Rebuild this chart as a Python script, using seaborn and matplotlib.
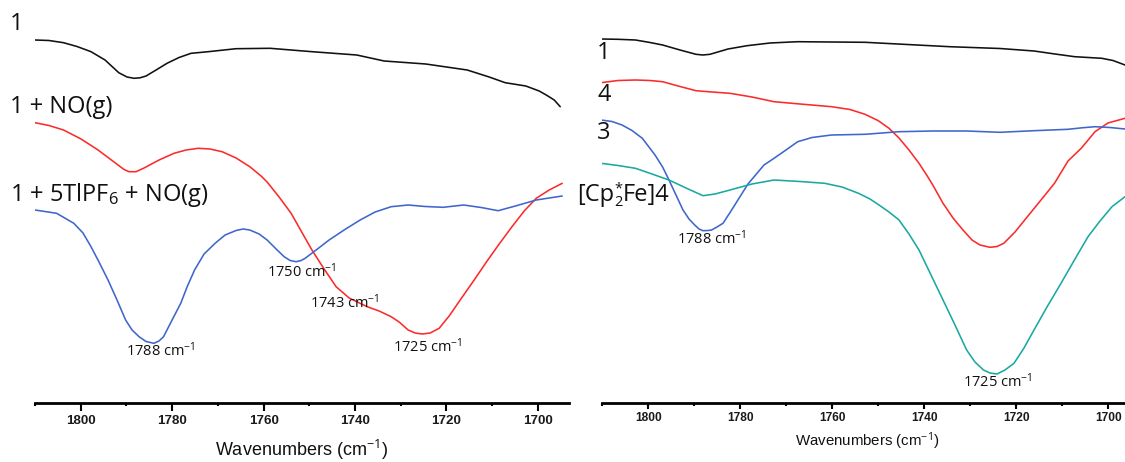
import matplotlib
matplotlib.use("Agg")
import matplotlib.pyplot as plt
from matplotlib.ticker import MultipleLocator
import seaborn as sns

# ---------------- data (wavenumber cm-1, offset transmittance a.u.) ----------------
left_black_wn = [1810.0, 1806.94, 1803.76, 1800.81, 1797.75, 1794.68, 1791.68, 1789.87, 1788.34, 1787.02,
                 1785.71, 1783.52, 1781.12, 1778.49, 1775.86, 1772.14, 1766.02, 1758.58, 1749.39, 1739.63,
                 1733.63, 1724.53, 1715.47, 1710.66, 1707.15, 1702.65, 1699.72, 1698.18, 1696.43, 1695.12]
left_black_y = [363, 362.5, 360.3, 356.5, 351.3, 343, 330.3, 326, 324.7, 325.2,
                327, 333, 339.7, 345.5, 349.7, 351.3, 354.3, 354.7, 351.3, 348,
                342, 339, 333, 326, 320.3, 317, 312, 308, 303, 296.3]

left_red_wn = [1810.0, 1806.94, 1803.76, 1799.93, 1796.21, 1792.71, 1790.53, 1789.43, 1787.90, 1786.15,
               1782.87, 1779.58, 1776.96, 1774.33, 1771.71, 1769.08, 1766.02, 1763.02, 1760.55, 1759.23,
               1756.61, 1753.98, 1751.79, 1749.43, 1746.76, 1744.14, 1741.29, 1737.35, 1734.73, 1732.10,
               1730.35, 1728.38, 1726.85, 1725.32, 1723.57, 1721.60, 1719.41, 1717.00, 1713.94, 1710.96,
               1708.47, 1705.67, 1703.00, 1700.37, 1697.53, 1694.68]
left_red_y = [280.3, 277.5, 273, 264, 253, 241, 233.5, 231.3, 231.3, 235,
              243, 249.7, 253, 254.7, 254, 251.3, 245, 236.3, 227, 221,
              206, 189.7, 172, 153, 134, 116.3, 105, 96.3, 92, 86.3,
              81, 73, 70, 69, 70, 74.7, 87, 103, 123, 143,
              159, 176.3, 192, 204.7, 213, 219.7]

left_blue_wn = [1810.0, 1805.27, 1801.51, 1799.50, 1797.75, 1796.00, 1794.03, 1792.06, 1790.18, 1788.77,
                1787.24, 1785.71, 1784.00, 1782.87, 1781.88, 1780.24, 1778.12, 1776.74, 1775.10, 1773.02,
                1770.61, 1768.42, 1766.02, 1764.49, 1763.02, 1760.98, 1759.23, 1757.26, 1755.51, 1754.20,
                1752.89, 1751.79, 1750.92, 1748.51, 1745.67, 1742.39, 1738.88, 1735.60, 1732.10, 1728.38,
                1724.66, 1720.72, 1716.24, 1712.41, 1708.69, 1704.53, 1700.37, 1697.53, 1694.68]
left_blue_y = [193, 189.7, 179.7, 170, 156.3, 141, 123, 103, 83, 73,
               66.3, 61.5, 59.7, 62, 66.3, 81, 99.7, 116, 133, 149,
               159.7, 168, 172.5, 174, 173, 169, 163, 154, 146.3, 142.5,
               141.3, 142.5, 144.7, 153, 163, 173, 183, 191, 196.3, 198,
               196.5, 195.7, 198, 195.5, 192.3, 197.5, 203, 205, 207]

right_black_wn = [1810.28, 1806.59, 1802.78, 1799.63, 1796.89, 1793.11, 1789.63, 1788.11, 1786.59, 1782.67,
                  1778.54, 1773.54, 1767.52, 1752.89, 1734.48, 1723.54, 1716.15, 1711.59, 1707.30, 1701.41,
                  1698.98, 1696.37]
right_black_y = [364, 363.7, 363, 360.5, 358, 353, 348.7, 348, 348.7, 354,
                 357.3, 360, 361.3, 360.7, 356.3, 354.5, 352, 349, 346.3, 344.7,
                 342.5, 338]

right_red_wn = [1810.28, 1806.59, 1802.78, 1799.63, 1796.89, 1793.11, 1789.63, 1786.15, 1782.24, 1777.46,
                1772.67, 1767.02, 1760.17, 1756.15, 1752.89, 1750.07, 1747.67, 1745.50, 1743.33, 1741.15,
                1739.63, 1738.15, 1735.93, 1733.76, 1731.59, 1729.63, 1727.89, 1725.72, 1724.20, 1722.72,
                1720.28, 1717.59, 1714.63, 1711.70, 1708.76, 1705.83, 1702.89, 1700.07, 1696.37]
right_red_y = [320.3, 322.5, 323, 322.5, 321.3, 316.5, 312.3, 311, 309.7, 306,
               301.3, 299, 296.3, 293.5, 288.7, 282.5, 274.7, 265, 253, 239.7,
               229, 218, 199.7, 185, 173, 163, 158, 155.7, 156.5, 159.7,
               171, 186.3, 203, 219.7, 242, 255, 271.3, 280, 284.7]

right_blue_wn = [1810.28, 1807.89, 1805.72, 1803.54, 1801.30, 1798.54, 1796.89, 1795.50, 1793.98, 1792.46,
                 1791.15, 1789.91, 1788.98, 1788.11, 1787.02, 1786.24, 1785.07, 1783.76, 1782.02, 1780.07,
                 1778.33, 1776.37, 1774.85, 1772.67, 1770.07, 1767.52, 1764.41, 1760.17, 1752.89, 1745.50,
                 1738.11, 1730.80, 1723.54, 1716.15, 1708.76, 1705.72, 1702.89, 1699.63, 1696.37]
right_blue_y = [283, 281.5, 278, 272.5, 264.7, 248, 236, 223, 208, 193,
                184, 178, 174, 172.3, 172.5, 173, 176, 179.7, 192, 206.3,
                219, 229.7, 238, 244.7, 253, 261.3, 265.5, 268, 268.7, 271.3,
                272, 272, 270.7, 272.3, 273.7, 275.2, 276.3, 275.5, 274]

right_teal_wn = [1810.28, 1806.59, 1802.78, 1799.20, 1795.50, 1791.80, 1788.11, 1785.50, 1782.24, 1777.46,
                 1772.67, 1767.02, 1761.65, 1757.89, 1754.30, 1751.80, 1749.85, 1747.67, 1745.50, 1743.33,
                 1741.15, 1738.54, 1735.93, 1733.33, 1730.80, 1728.98, 1727.13, 1725.72, 1724.20, 1722.46,
                 1720.50, 1718.33, 1716.15, 1713.33, 1710.28, 1707.24, 1704.41, 1701.80, 1699.20, 1696.37]
right_teal_y = [239.7, 237.5, 234.7, 229, 223, 215, 207.3, 209, 213, 219,
                223, 221.5, 219.7, 216, 209.7, 204, 198, 191, 183, 169,
                153, 128, 103, 78, 53, 41, 33, 30, 29, 33,
                39.7, 55, 73, 96, 119.7, 144, 166.3, 182, 196.3, 206.3]

left_labels = ["1", "1 + NO(g)", "1 + 5TlPF$_6$ + NO(g)"]
right_labels = ["1", "4", "3"]
cp_label_parts = ["[Cp", "2", "*", "Fe]4"]
left_peaks = ["1788 cm$^{-1}$", "1750 cm$^{-1}$", "1743 cm$^{-1}$", "1725 cm$^{-1}$"]
right_peaks = ["1788 cm$^{-1}$", "1725 cm$^{-1}$"]
x_ticks = [1800, 1780, 1760, 1740, 1720, 1700]

BLACK = "#111111"
RED = "#fb2b2b"
BLUE = "#3f66cc"
TEAL = "#19a9a1"

# ---------------- style ----------------
sns.set_theme(style="white")
plt.rcParams['font.family'] = ['Open Sans', 'DejaVu Sans']
plt.rcParams['mathtext.fontset'] = 'custom'
plt.rcParams['mathtext.rm'] = 'Open Sans'
plt.rcParams['mathtext.it'] = 'Open Sans'
plt.rcParams['mathtext.bf'] = 'Open Sans'

W, H = 1125, 462
fig = plt.figure(figsize=(W / 100, H / 100), dpi=100)
fig.patch.set_facecolor("white")

axL = fig.add_axes([35 / W, (H - 403) / H, 534 / W, 403 / H])
axR = fig.add_axes([602.3 / W, (H - 403) / H, 529 / W, 403 / H])

def draw(ax, wn, y, color):
    sns.lineplot(x=wn, y=y, ax=ax, color=color, linewidth=1.15,
                 estimator=None, sort=False, legend=False)

draw(axL, left_black_wn, left_black_y, BLACK)
draw(axL, left_red_wn, left_red_y, RED)
draw(axL, left_blue_wn, left_blue_y, BLUE)

draw(axR, right_black_wn, right_black_y, BLACK)
draw(axR, right_red_wn, right_red_y, RED)
draw(axR, right_blue_wn, right_blue_y, BLUE)
draw(axR, right_teal_wn, right_teal_y, TEAL)

settings = {
    "L": dict(ax=axL, xr=1693.2, maj=5.4, mnr=2.5, pad=3.5, tsize=9.6, lsize=13.0, ly=-0.1166),
    "R": dict(ax=axR, xr=1695.0, maj=4.0, mnr=2.0, pad=2.5, tsize=8.6, lsize=10.8, ly=-0.096),
}
for key, s in settings.items():
    ax = s["ax"]
    ax.set_xlim(1810, s["xr"])
    ax.set_ylim(0, 403)
    ax.set_facecolor("none")
    for sp in ("left", "right", "top"):
        ax.spines[sp].set_visible(False)
    ax.spines["bottom"].set_linewidth(2.0)
    ax.spines["bottom"].set_color("black")
    ax.set_yticks([])
    ax.set_xticks(x_ticks)
    ax.xaxis.set_minor_locator(MultipleLocator(10))
    ax.tick_params(axis="x", which="major", direction="out", length=s["maj"], width=1.5,
                   color="black", pad=s["pad"], bottom=True)
    ax.tick_params(axis="x", which="minor", direction="out", length=s["mnr"], width=1.5,
                   color="black", bottom=True)
    for lab in ax.get_xticklabels():
        lab.set_fontfamily("Liberation Sans")
        lab.set_fontweight("bold")
        lab.set_fontsize(s["tsize"])
        lab.set_color("#1a1a1a")
    ax.set_xlabel("Wavenumbers (cm$^{-1}$)", fontsize=s["lsize"], family="Liberation Sans",
                  color="#111111")
    ax.xaxis.label.set_va("center")
    ax.xaxis.set_label_coords(0.5, s["ly"])
    ax.grid(False)

# ---------------- labels (figure pixel coordinates) ----------------
def ftext(x, y, s, size, ha="left", va="center"):
    return fig.text(x / W, 1 - y / H, s, fontsize=size, ha=ha, va=va, color="#111111")

big = 17
ftext(10, 24, left_labels[0], big)
ftext(10, 107, left_labels[1], big)
ftext(10, 195, left_labels[2], big)

ftext(597, 53, right_labels[0], big)
ftext(597, 95, right_labels[1], big)
ftext(597, 133, right_labels[2], big)

# [Cp2*Fe]4 composed piecewise so the sub/superscript stack stays compact
renderer = fig.canvas.get_renderer()
base_y = 201  # baseline in pixels
t1 = fig.text(577 / W, 1 - base_y / H, cp_label_parts[0], fontsize=big, ha="left",
              va="baseline", color="#111111")
x_end = t1.get_window_extent(renderer).x1
t2 = fig.text(x_end / W + 0.3 / W, 1 - (base_y + 5) / H, cp_label_parts[1], fontsize=10.5,
              ha="left", va="baseline", color="#111111")
t3 = fig.text(x_end / W + 0.3 / W, 1 - (base_y - 9) / H, cp_label_parts[2], fontsize=10.5,
              ha="left", va="baseline", color="#111111")
x_end2 = max(t2.get_window_extent(renderer).x1, t3.get_window_extent(renderer).x1)
fig.text(x_end2 / W, 1 - base_y / H, cp_label_parts[3], fontsize=big, ha="left",
         va="baseline", color="#111111")

small = 10.5
ftext(161, 351, left_peaks[0], small, "center")
ftext(302, 272, left_peaks[1], small, "center")
ftext(345, 303, left_peaks[2], small, "center")
ftext(428, 347, left_peaks[3], small, "center")

ftext(712, 239, right_peaks[0], small, "center")
ftext(998, 382, right_peaks[1], small, "center")

fig.savefig("out.png", dpi=100)
